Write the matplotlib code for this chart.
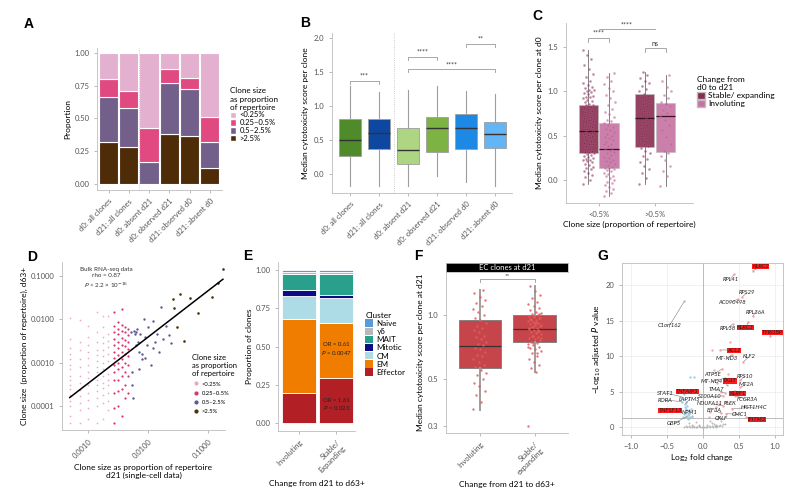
import numpy as np
import matplotlib.pyplot as plt
from matplotlib.patches import Patch
from matplotlib.lines import Line2D

plt.rcParams['font.family'] = ['Lato', 'DejaVu Sans']
plt.rcParams['font.size'] = 5.5
plt.rcParams['axes.linewidth'] = 0.6
plt.rcParams['axes.edgecolor'] = '#bdbdbd'
plt.rcParams['xtick.color'] = '#9e9e9e'
plt.rcParams['ytick.color'] = '#9e9e9e'
plt.rcParams['xtick.labelcolor'] = '#555555'
plt.rcParams['ytick.labelcolor'] = '#555555'
plt.rcParams['xtick.major.size'] = 2
plt.rcParams['ytick.major.size'] = 2
plt.rcParams['xtick.major.width'] = 0.5
plt.rcParams['ytick.major.width'] = 0.5
plt.rcParams['xtick.labelsize'] = 5.5
plt.rcParams['ytick.labelsize'] = 5.5
plt.rcParams['axes.labelsize'] = 6

# ---------------- data: panel A ----------------
a_groups = ['d0: all clones', 'd21: all clones', 'd0: absent d21',
            'd0: observed d21', 'd21: observed d0', 'd21: absent d0']
a_over25 = [0.32, 0.28, 0.0, 0.385, 0.365, 0.12]
a_05_25 = [0.345, 0.30, 0.17, 0.385, 0.36, 0.20]
a_025_05 = [0.135, 0.13, 0.26, 0.11, 0.085, 0.195]
a_under025 = [0.20, 0.29, 0.57, 0.12, 0.19, 0.485]
size_labels = ['<0.25%', '0.25–0.5%', '0.5–2.5%', '>2.5%']

# ---------------- data: panel B ----------------
b_groups = a_groups
b_med = [0.50, 0.60, 0.35, 0.67, 0.68, 0.59]
b_q1 = [0.27, 0.37, 0.14, 0.32, 0.36, 0.38]
b_q3 = [0.81, 0.80, 0.67, 0.84, 0.88, 0.76]
b_lo = [-0.17, -0.17, -0.17, -0.03, -0.12, -0.17]
b_hi = [1.29, 1.21, 1.23, 1.29, 1.22, 1.17]
b_sig = [(0, 1, 1.37, '***'), (2, 3, 1.72, '****'), (2, 5, 1.54, '****'), (4, 5, 1.91, '**')]

# ---------------- data: panel C ----------------
c_groups = ['<0.5%', '>0.5%']
c_med = [0.55, 0.35, 0.70, 0.72]
c_q1 = [0.30, 0.13, 0.37, 0.32]
c_q3 = [0.85, 0.64, 0.97, 0.87]
c_lo = [-0.05, -0.18, -0.05, -0.07]
c_hi = [1.47, 1.21, 1.22, 1.18]
c_stab_small = [-0.05, 0.0, 0.03, 0.06, 0.08, 0.1, 0.12, 0.14, 0.15, 0.17, 0.18, 0.2, 0.21, 0.22,
                0.23, 0.24, 0.25, 0.26, 0.27, 0.28, 0.29, 0.3, 0.31, 0.32, 0.33, 0.35, 0.36, 0.37,
                0.38, 0.4, 0.41, 0.42, 0.44, 0.45, 0.46, 0.48, 0.49, 0.5, 0.51, 0.52, 0.53, 0.55,
                0.56, 0.57, 0.58, 0.6, 0.61, 0.62, 0.64, 0.65, 0.66, 0.68, 0.7, 0.71, 0.72, 0.74,
                0.75, 0.77, 0.78, 0.8, 0.81, 0.82, 0.84, 0.85, 0.86, 0.88, 0.89, 0.9, 0.92, 0.93,
                0.94, 0.95, 0.97, 0.98, 0.99, 1.0, 1.01, 1.02, 1.04, 1.05, 1.07, 1.09, 1.12, 1.16,
                1.2, 1.25, 1.3, 1.36, 1.41, 1.47]
c_inv_small = [-0.18, -0.15, -0.12, -0.1, -0.08, -0.06, -0.04, -0.02, 0.0, 0.02, 0.04, 0.05,
               0.07, 0.08, 0.1, 0.11, 0.12, 0.13, 0.14, 0.15, 0.17, 0.18, 0.2, 0.21, 0.23, 0.25,
               0.26, 0.28, 0.3, 0.32, 0.33, 0.35, 0.36, 0.38, 0.4, 0.41, 0.43, 0.45, 0.47, 0.48,
               0.5, 0.52, 0.54, 0.56, 0.58, 0.6, 0.62, 0.64, 0.66, 0.68, 0.71, 0.74, 0.77, 0.8,
               0.84, 0.88, 0.92, 0.96, 1.0, 1.04, 1.08, 1.12, 1.16, 1.21]
c_stab_big = [-0.05, 0.02, 0.08, 0.12, 0.16, 0.2, 0.24, 0.27, 0.3, 0.33, 0.36, 0.38, 0.41, 0.44,
              0.47, 0.5, 0.53, 0.56, 0.59, 0.62, 0.65, 0.68, 0.7, 0.72, 0.75, 0.78, 0.8, 0.83,
              0.86, 0.88, 0.9, 0.93, 0.95, 0.97, 1.0, 1.03, 1.06, 1.09, 1.12, 1.15, 1.18, 1.22]
c_inv_big = [-0.07, 0.05, 0.1, 0.16, 0.22, 0.27, 0.3, 0.33, 0.4, 0.48, 0.56, 0.62, 0.68, 0.72,
             0.75, 0.79, 0.83, 0.86, 0.88, 0.92, 0.96, 1.0, 1.05, 1.12, 1.18]

# ---------------- data: panel D ----------------
d_tiny_cols = [0.0005, 0.00075, 0.001, 0.0014, 0.0018, 0.0022]
d_tiny_ys = [
    [0.00004, 0.00006, 0.0001, 0.00013, 0.00018, 0.00025, 0.0003, 0.0004, 0.0005, 0.0007, 0.0009, 0.0012, 0.0016, 0.0022, 0.0035, 0.011],
    [0.00004, 0.00008, 0.00012, 0.00017, 0.00024, 0.00035, 0.0005, 0.0008, 0.0012, 0.002, 0.003, 0.0095],
    [0.00005, 0.00009, 0.00014, 0.0002, 0.0003, 0.00045, 0.0006, 0.0009, 0.0013, 0.0018, 0.0025, 0.004, 0.007],
    [0.00004, 0.0001, 0.00015, 0.00022, 0.0003, 0.0004, 0.0006, 0.0008, 0.0011, 0.0015, 0.002, 0.003, 0.005, 0.015],
    [0.00005, 0.00012, 0.00018, 0.00026, 0.00035, 0.0005, 0.0007, 0.001, 0.0014, 0.002, 0.0028, 0.004, 0.0065, 0.012],
    [0.00008, 0.00013, 0.0002, 0.0003, 0.0004, 0.00055, 0.0008, 0.0011, 0.0016, 0.0023, 0.0032, 0.0045, 0.012],
]
d_small_cols = [0.0027, 0.0032, 0.0037, 0.0042, 0.0047]
d_small_ys = [
    [0.00004, 0.00009, 0.0002, 0.0004, 0.0006, 0.0009, 0.0013, 0.0018, 0.0025, 0.0035, 0.005, 0.007, 0.015],
    [0.0001, 0.00022, 0.0004, 0.0007, 0.001, 0.0015, 0.0022, 0.003, 0.0045, 0.006, 0.0085],
    [0.00006, 0.00025, 0.0005, 0.0008, 0.0012, 0.0018, 0.0026, 0.0038, 0.0055, 0.0075, 0.017],
    [0.00015, 0.0003, 0.0006, 0.001, 0.0016, 0.0024, 0.0034, 0.005, 0.0068],
    [0.0002, 0.0005, 0.0009, 0.0014, 0.0021, 0.003, 0.0043, 0.006],
]
d_mid_x = [0.0052, 0.0055, 0.0058, 0.006, 0.0063, 0.0065, 0.0068, 0.007, 0.0072, 0.0075, 0.008,
           0.0085, 0.009, 0.0095, 0.01, 0.011, 0.012, 0.013, 0.014, 0.015, 0.0163, 0.018, 0.02,
           0.022, 0.024, 0.0055, 0.0062, 0.0078, 0.0088, 0.012, 0.0057]
d_mid_y = [0.005, 0.0006, 0.0055, 0.0045, 0.0025, 0.006, 0.003, 0.0007, 0.0018, 0.0045, 0.0012,
           0.01, 0.004, 0.0025, 0.0065, 0.0009, 0.009, 0.003, 0.0045, 0.0018, 0.0197, 0.0035,
           0.007, 0.0043, 0.0028, 0.0003, 0.0052, 0.0016, 0.0013, 0.0022, 0.00015]
d_big_x = [0.176, 0.143, 0.117, 0.067, 0.050, 0.039, 0.034, 0.030, 0.027, 0.0264]
d_big_y = [0.145, 0.068, 0.033, 0.014, 0.031, 0.0031, 0.0386, 0.0066, 0.018, 0.030]
d_fit_slope = 1.07       # log10-log10 regression
d_fit_intercept = -0.27
d_fit_range = [0.0005, 0.176]

# ---------------- data: panel E ----------------
e_groups = ['Involuting', 'Stable/\nExpanding']
e_clusters = ['Effector', 'EM', 'CM', 'Mitotic', 'MAIT', 'γδ', 'Naive']
e_invol = [0.20, 0.48, 0.15, 0.04, 0.10, 0.013, 0.017]
e_stable = [0.295, 0.36, 0.16, 0.017, 0.14, 0.013, 0.015]

# ---------------- data: panel F ----------------
f_groups = ['Involuting', 'Stable/\nexpanding']
f_med = [0.717, 0.864]
f_q1 = [0.564, 0.75]
f_q3 = [0.947, 1.0]
f_lo = [0.357, 0.538]
f_hi = [1.31, 1.37]
f_invol = [0.36, 0.39, 0.42, 0.44, 0.46, 0.48, 0.5, 0.52, 0.53, 0.55, 0.57, 0.58, 0.6, 0.62,
           0.64, 0.65, 0.67, 0.69, 0.7, 0.72, 0.73, 0.75, 0.77, 0.79, 0.8, 0.83, 0.85, 0.87,
           0.89, 0.92, 0.95, 0.97, 1.0, 1.04, 1.07, 1.1, 1.14, 1.18, 1.22, 1.27, 1.31]
f_stable = [0.3, 0.54, 0.56, 0.58, 0.6, 0.62, 0.64, 0.66, 0.68, 0.69, 0.7, 0.71, 0.72, 0.73,
            0.74, 0.75, 0.76, 0.77, 0.78, 0.79, 0.8, 0.81, 0.82, 0.83, 0.84, 0.85, 0.86, 0.87,
            0.88, 0.89, 0.9, 0.91, 0.92, 0.93, 0.94, 0.95, 0.96, 0.97, 0.98, 0.99, 1.0, 1.01,
            1.02, 1.04, 1.06, 1.08, 1.1, 1.13, 1.16, 1.2, 1.25, 1.3, 1.37, 0.85, 0.88, 0.9,
            0.93, 0.95, 0.97, 0.99, 0.87, 0.83, 0.8, 0.78, 0.92, 0.96, 1.01, 0.74, 0.71, 0.66]

# ---------------- data: panel G ----------------
g_genes = ['KLRC2', 'RPL41', 'RPS29', 'AC090498', 'RPL36A', 'RPL38', 'KLRC3', 'TYROBP',
           'C1orf162', 'XCL2', 'MT-ND3', 'KLF2', 'ATP5E', 'MT-ND4', 'TIGIT', 'RPS10', 'MT2A',
           'TMA7', 'KLRF1', 'S100A10', 'FCGR3A', 'STAT1', 'TNFAIP3', 'RORA', 'LAPTM5',
           'NDUFA11', 'PLEK', 'HIST1H4C', 'TNFSF13', 'NPM1', 'EIF3A', 'CMC1', 'IFITM3',
           'CKLF', 'GBP5']
g_fc = [0.69, 0.43, 0.54, 0.48, 0.69, 0.41, 0.63, 0.93, -0.26, 0.24, 0.40, 0.56, 0.27, 0.30,
        0.33, 0.52, 0.52, 0.30, 0.44, 0.28, 0.45, -0.30, -0.27, -0.29, -0.25, 0.28, 0.30, 0.40,
        -0.35, -0.24, 0.25, 0.32, 0.60, 0.22, -0.22]
g_p = [22.0, 21.5, 18.3, 18.0, 15.6, 14.5, 14.8, 12.8, 17.7, 10.8, 10.2, 9.2, 8.2, 6.9, 6.0,
       6.6, 5.6, 4.8, 5.1, 4.4, 4.4, 4.3, 4.6, 3.6, 3.2, 3.0, 3.6, 2.6, 2.4, 2.5, 2.0, 1.9,
       1.4, 1.5, 1.5]
g_highlight = ['KLRC2', 'KLRC3', 'TYROBP', 'XCL2', 'TIGIT', 'KLRF1', 'TNFAIP3', 'TNFSF13', 'IFITM3']
g_gray_x = [-0.26, -0.24, -0.22, -0.2, -0.18, -0.16, -0.14, -0.12, -0.1, -0.08, -0.06, -0.04,
            -0.02, 0.0, 0.02, 0.04, 0.06, 0.08, 0.1, 0.12, 0.14, 0.16, 0.18, 0.2, 0.22, 0.24,
            0.26, 0.28, 0.3, -0.15, -0.05, 0.05, 0.15, 0.25, -0.2, 0.1, 0.2, 0.12, 0.18, -0.1]
g_gray_y = [0.05, 0.1, 0.05, 0.15, 0.08, 0.02, 0.12, 0.04, 0.09, 0.03, 0.1, 0.05, 0.02, 0.07,
            0.03, 0.08, 0.05, 0.12, 0.04, 0.1, 0.06, 0.14, 0.08, 0.2, 0.1, 0.3, 0.15, 0.4, 0.5,
            0.35, 0.25, 0.3, 0.45, 0.8, 0.6, 0.9, 1.1, 0.6, 0.3, 0.7]
g_down_x = [-0.28, -0.27, -0.26, -0.25, -0.24, -0.23, -0.22, -0.21, -0.2, -0.19, -0.18, -0.17,
            -0.16, -0.15, -0.23, -0.21, -0.19, -0.26, -0.18, -0.12]
g_down_y = [1.5, 2.2, 1.8, 2.8, 1.6, 2.0, 3.0, 1.7, 2.4, 1.9, 1.5, 2.6, 1.6, 1.4, 3.6, 1.2,
            1.3, 4.0, 7.1, 7.1]
g_up_x = [0.12, 0.15, 0.2, 0.25, 0.1, 0.18, 0.22, 0.35, 0.38, 0.08]
g_up_y = [10.8, 8.0, 6.2, 5.0, 2.2, 2.8, 3.3, 7.5, 12.0, 1.5]

# label placement for panel G (layout only)
g_lbl_x = [0.80, 0.38, 0.61, 0.40, 0.73, 0.34, 0.59, 0.96, -0.46, 0.43, 0.33, 0.64, 0.13, 0.12,
           0.37, 0.58, 0.60, 0.18, 0.48, 0.09, 0.61, -0.52, -0.22, -0.52, -0.19, 0.09, 0.38,
           0.71, -0.46, -0.18, 0.16, 0.51, 0.75, 0.26, -0.40]
g_lbl_y = [22.6, 20.8, 18.9, 17.6, 16.2, 13.9, 14.0, 13.3, 14.4, 10.8, 9.6, 9.9, 7.4, 6.4, 6.5,
           7.2, 6.0, 5.3, 4.7, 4.3, 3.9, 4.8, 5.0, 3.8, 3.9, 3.3, 3.3, 2.8, 2.3, 2.1, 2.3, 1.8,
           1.1, 1.2, 0.56]

# ---------------- helpers ----------------
fig = plt.figure(figsize=(8, 5), dpi=100)


def add_ax(l, t, r, b):
    return fig.add_axes([l / 800, 1 - b / 500, (r - l) / 800, (b - t) / 500])


def jitter(n, width):
    return (np.arange(n) * 0.618034 % 1.0 - 0.5) * width


def classic(ax):
    ax.spines['top'].set_visible(False)
    ax.spines['right'].set_visible(False)


def bracket(ax, x1, x2, y, text, h=0.04, fs=5):
    ax.plot([x1, x1, x2, x2], [y - h, y, y, y - h], color='#999999', lw=0.6)
    ax.text((x1 + x2) / 2, y + h * 0.3, text, ha='center', va='bottom', fontsize=fs, color='#333333')


def box_stats(med, q1, q3, lo, hi):
    return [dict(med=m, q1=a, q3=b, whislo=l, whishi=h) for m, a, b, l, h in zip(med, q1, q3, lo, hi)]


def panel_letter(x, y, s):
    fig.text(x / 800, 1 - y / 500, s, fontsize=10, fontweight='bold', ha='left', va='center',
             family=['Liberation Sans', 'DejaVu Sans'])


panel_letter(24, 24, 'A')
panel_letter(300, 23, 'B')
panel_letter(532, 16, 'C')
panel_letter(27, 257, 'D')
panel_letter(243, 256, 'E')
panel_letter(414, 256, 'F')
panel_letter(597, 256, 'G')

# ---------------- panel A ----------------
axA = add_ax(97, 48, 222, 190)
xa = np.arange(1, 7)
a_colors = ['#4e2c08', '#73608a', '#e04a80', '#e4b0cf']
bottom = np.zeros(6)
for vals, col in zip([a_over25, a_05_25, a_025_05, a_under025], a_colors):
    axA.bar(xa, vals, bottom=bottom, width=0.95, color=col, edgecolor='white', linewidth=0.8)
    bottom += np.array(vals)
axA.axvline(2.5, color='#bbbbbb', lw=0.6, ls=':')
axA.set_xlim(0.43, 6.6)
axA.set_ylim(-0.046, 1.038)
axA.set_yticks([0, 0.25, 0.5, 0.75, 1.0])
axA.set_yticklabels(['0.00', '0.25', '0.50', '0.75', '1.00'])
axA.set_xticks(xa)
axA.set_xticklabels(a_groups, rotation=45, ha='right', rotation_mode='anchor')
axA.set_ylabel('Proportion', labelpad=2)
classic(axA)
hA = [Patch(facecolor=c, edgecolor='white') for c in a_colors[::-1]]
axA.legend(hA, size_labels, title='Clone size\nas proportion\nof repertoire', loc='upper left',
           bbox_to_anchor=(1.03, 0.75), frameon=False, fontsize=5.5, title_fontsize=5.8,
           handlelength=0.9, handleheight=0.9, labelspacing=0.1, handletextpad=0.4,
           alignment='left', borderpad=0)

# ---------------- panel B ----------------
axB = add_ax(332, 33, 512, 193)
xb = np.arange(1, 7)
b_colors = ['#4f8a2b', '#0d47a1', '#aed581', '#7cb342', '#1e88e5', '#64b5f6']
bp = axB.bxp(box_stats(b_med, b_q1, b_q3, b_lo, b_hi), positions=xb, widths=0.75,
             patch_artist=True, showfliers=False, showcaps=False,
             whiskerprops=dict(color='#9e9e9e', lw=0.8),
             medianprops=dict(color='#333333', lw=1.0),
             boxprops=dict(edgecolor='#9e9e9e', lw=0.6))
for patch, col in zip(bp['boxes'], b_colors):
    patch.set_facecolor(col)
for i, j, y, s in b_sig:
    bracket(axB, xb[i], xb[j], y, s, h=0.05)
axB.axvline(2.5, color='#bbbbbb', lw=0.6, ls=':')
axB.set_xlim(0.38, 6.58)
axB.set_ylim(-0.28, 2.07)
axB.set_yticks([0, 0.5, 1.0, 1.5, 2.0])
axB.set_xticks(xb)
axB.set_xticklabels(b_groups, rotation=45, ha='right', rotation_mode='anchor')
axB.set_ylabel('Median cytotoxicity score per clone', labelpad=3)
classic(axB)

# ---------------- panel C ----------------
axC = add_ax(566, 23, 693, 203)
dodge = 0.185
xc = [1 - dodge, 1 + dodge, 2 - dodge, 2 + dodge]
c_face = ['#8a2c50', '#c672a2', '#8a2c50', '#c672a2']
c_pts = ['#7a1f44', '#b5558c', '#7a1f44', '#b5558c']
bp = axC.bxp(box_stats(c_med, c_q1, c_q3, c_lo, c_hi), positions=xc, widths=0.345,
             patch_artist=True, showfliers=False, showcaps=False,
             whiskerprops=dict(color='#6d6d6d', lw=0.6),
             medianprops=dict(color='#3a1020', lw=0.9),
             boxprops=dict(edgecolor='#bdbdbd', lw=0.5))
for patch, col in zip(bp['boxes'], c_face):
    patch.set_facecolor(col)
    patch.set_alpha(0.9)
for pos, vals, col in zip(xc, [c_stab_small, c_inv_small, c_stab_big, c_inv_big], c_pts):
    axC.scatter(pos + jitter(len(vals), 0.2), vals, s=3, color=col, alpha=0.55,
                edgecolors='#d9a0bf', linewidths=0.2, zorder=3)
bracket(axC, xc[0], xc[1], 1.60, '****', h=0.045)
bracket(axC, xc[2], xc[3], 1.49, 'ns', h=0.045)
axC.plot([1, 2], [1.70, 1.70], color='#999999', lw=0.6)
axC.text(1.5, 1.71, '****', ha='center', va='bottom', fontsize=5, color='#333333')
axC.set_xlim(0.42, 2.67)
axC.set_ylim(-0.26, 1.77)
axC.set_yticks([0, 0.5, 1.0, 1.5])
axC.set_xticks([1, 2])
axC.set_xticklabels(c_groups)
axC.set_xlabel('Clone size (proportion of repertoire)', labelpad=2)
axC.set_ylabel('Median cytotoxicity score per clone at d0', labelpad=3)
classic(axC)
hC = [Patch(facecolor=c_face[0], edgecolor='#bdbdbd'), Patch(facecolor=c_face[1], edgecolor='#bdbdbd')]
axC.legend(hC, ['Stable/ expanding', 'Involuting'], title='Change from\nd0 to d21',
           loc='upper left', bbox_to_anchor=(1.0, 0.73), frameon=False, fontsize=6,
           title_fontsize=6, handlelength=0.9, handleheight=0.9, labelspacing=0.1,
           handletextpad=0.4, alignment='left', borderpad=0)

# ---------------- panel D ----------------
axD = add_ax(62, 262, 225, 430)
d_colors = ['#e6a8cc', '#e0306e', '#5d5a92', '#4e3008']
for cx, ys in zip(d_tiny_cols, d_tiny_ys):
    axD.scatter(np.full(len(ys), cx), ys, s=1.5, color=d_colors[0], lw=0)
for cx, ys in zip(d_small_cols, d_small_ys):
    axD.scatter(np.full(len(ys), cx), ys, s=2.5, color=d_colors[1], lw=0)
axD.scatter(d_mid_x, d_mid_y, s=3, color=d_colors[2], lw=0)
axD.scatter(d_big_x, d_big_y, s=3.5, color=d_colors[3], lw=0)
lx = np.log10(np.array(d_fit_range))
axD.plot(10 ** lx, 10 ** (d_fit_slope * lx + d_fit_intercept), color='black', lw=1.1)
axD.set_xscale('log')
axD.set_yscale('log')
axD.set_xlim(10 ** -3.43, 10 ** -0.72)
axD.set_ylim(10 ** -4.55, 10 ** -0.68)
axD.set_xticks([0.001, 0.01, 0.1])
axD.set_xticklabels(['0.0010', '0.0100', '0.1000'], rotation=45, ha='right', rotation_mode='anchor')
axD.set_yticks([0.0001, 0.001, 0.01, 0.1])
axD.set_yticklabels(['0.0001', '0.0010', '0.0100', '0.1000'])
axD.minorticks_off()
axD.set_xlabel('Clone size as proportion of repertoire\nd21 (single-cell data)', labelpad=3)
axD.set_ylabel('Clone size  (proportion of repertoire), d63+', labelpad=2)
classic(axD)
axD.text(0.27, 0.97, 'Bulk RNA-seq data\nrho = 0.87\n$P$ < 2.2 × 10$^{-16}$', transform=axD.transAxes,
         ha='center', va='top', fontsize=4.5, color='#333333', linespacing=1.3)
hD = [Line2D([], [], marker='o', ls='', color=c, markersize=2) for c in d_colors]
axD.legend(hD, size_labels, title='Clone size\nas proportion\nof repertoire', loc='upper left',
           bbox_to_anchor=(0.78, 0.47), frameon=False, fontsize=4.2, title_fontsize=5.5,
           handlelength=1.2, labelspacing=0.7, handletextpad=0.4, alignment='left', borderpad=0)

# ---------------- panel E ----------------
axE = add_ax(278, 262, 355, 431)
e_colors = ['#b22025', '#f07d00', '#aedce6', '#0b0b8a', '#28a08c', '#b8b8b8', '#5b9bd5']
bottom = np.zeros(2)
for k, col in enumerate(e_colors):
    vals = np.array([e_invol[k], e_stable[k]])
    axE.bar([1, 2], vals, bottom=bottom, width=0.9, color=col, edgecolor='white', linewidth=0.6)
    bottom += vals
axE.text(2, 0.48, 'OR = 0.61\n$P$ = 0.0047', ha='center', va='center', fontsize=4.3, color='#222222')
axE.text(2, 0.12, 'OR = 1.61\n$P$ = 0.023', ha='center', va='center', fontsize=4.3, color='#222222')
axE.set_xlim(0.43, 2.51)
axE.set_ylim(-0.05, 1.05)
axE.set_yticks([0, 0.25, 0.5, 0.75, 1.0])
axE.set_yticklabels(['0.00', '0.25', '0.50', '0.75', '1.00'])
axE.set_xticks([1, 2])
axE.set_xticklabels(e_groups, rotation=45, ha='right', rotation_mode='anchor')
axE.set_xlabel('Change from d21 to d63+', labelpad=4)
axE.set_ylabel('Proportion of clones', labelpad=2)
classic(axE)
hE = [Patch(facecolor=c) for c in e_colors[::-1]]
axE.legend(hE, e_clusters[::-1], title='Cluster', loc='upper left', bbox_to_anchor=(1.08, 0.73),
           frameon=False, fontsize=5.8, title_fontsize=6, handlelength=1.0, handleheight=1.0,
           labelspacing=0.1, handletextpad=0.4, alignment='left', borderpad=0)

# ---------------- panel F ----------------
axF = add_ax(446, 272, 568, 433)
bp = axF.bxp(box_stats(f_med, f_q1, f_q3, f_lo, f_hi), positions=[1, 2], widths=0.77,
             patch_artist=True, showfliers=False, showcaps=False,
             whiskerprops=dict(color='#9e9e9e', lw=1.4),
             medianprops=dict(color='#333333', lw=0.9),
             boxprops=dict(edgecolor='#7a7a7a', lw=0.6))
for patch in bp['boxes']:
    patch.set_facecolor('#c5454a')
for pos, vals in zip([1, 2], [f_invol, f_stable]):
    axF.scatter(pos + jitter(len(vals), 0.25), vals, s=3, color='#e35d5d', alpha=0.85, lw=0, zorder=3)
axF.set_yscale('log')
axF.set_ylim(0.277, 1.6)
axF.set_xlim(0.385, 2.61)
axF.plot([1, 1, 2, 2], [1.43, 1.48, 1.48, 1.43], color='#999999', lw=0.6)
axF.text(1.5, 1.49, '**', ha='center', va='bottom', fontsize=4.5, color='#333333')
axF.set_yticks([0.3, 0.5, 1.0])
axF.set_yticklabels(['0.3', '0.5', '1.0'])
axF.minorticks_off()
axF.set_xticks([1, 2])
axF.set_xticklabels(f_groups, rotation=45, ha='right', rotation_mode='anchor')
axF.set_xlabel('Change from d21 to d63+', labelpad=4)
axF.set_ylabel('Median cytotoxicity score per clone at d21', labelpad=3)
classic(axF)
stripF = add_ax(446, 263, 568, 272)
stripF.set_facecolor('black')
stripF.set_xticks([])
stripF.set_yticks([])
stripF.text(0.5, 0.45, 'EC clones at d21', color='white', ha='center', va='center', fontsize=5.5,
            transform=stripF.transAxes)

# ---------------- panel G ----------------
axG = add_ax(622, 263, 783, 435)
axG.grid(True, color='#ececec', lw=0.5)
axG.set_axisbelow(True)
axG.axvline(0, color='#bbbbbb', lw=0.7)
axG.axhline(1.3, color='#bbbbbb', lw=0.7)
axG.scatter(g_gray_x, g_gray_y, s=2, color='#9e9e9e', alpha=0.7, lw=0)
axG.scatter(g_down_x, g_down_y, s=3, color='#9ecae1', alpha=0.9, lw=0)
axG.scatter(g_up_x, g_up_y, s=3, color='#f4a3a3', alpha=0.9, lw=0)
for name, fx, py, tx, ty in zip(g_genes, g_fc, g_p, g_lbl_x, g_lbl_y):
    if name == 'C1orf162':
        pc = '#bdbdbd'
    elif fx < 0:
        pc = '#9ecae1'
    else:
        pc = '#f4a3a3'
    axG.scatter([fx], [py], s=3, color=pc, lw=0, zorder=3)
    axG.plot([fx, tx], [py, ty], color='#555555', lw=0.3, zorder=2)
    bb = None
    if name in g_highlight:
        bb = dict(boxstyle='square,pad=0.02', facecolor='#ff1a1a', edgecolor='none')
    axG.text(tx, ty, name, fontsize=4.2, style='italic', ha='center', va='center',
             color='#222222', bbox=bb, zorder=4)
axG.set_xlim(-1.125, 1.11)
axG.set_ylim(-1.1, 23.1)
axG.set_xticks([-1.0, -0.5, 0.0, 0.5, 1.0])
axG.set_yticks([0, 5, 10, 15, 20])
for s in axG.spines.values():
    s.set_color('#bdbdbd')
axG.set_xlabel('Log$_2$ fold change', labelpad=2)
axG.set_ylabel('−Log$_{10}$ adjusted $P$ value', labelpad=2)

fig.savefig('out.png', dpi=100)
